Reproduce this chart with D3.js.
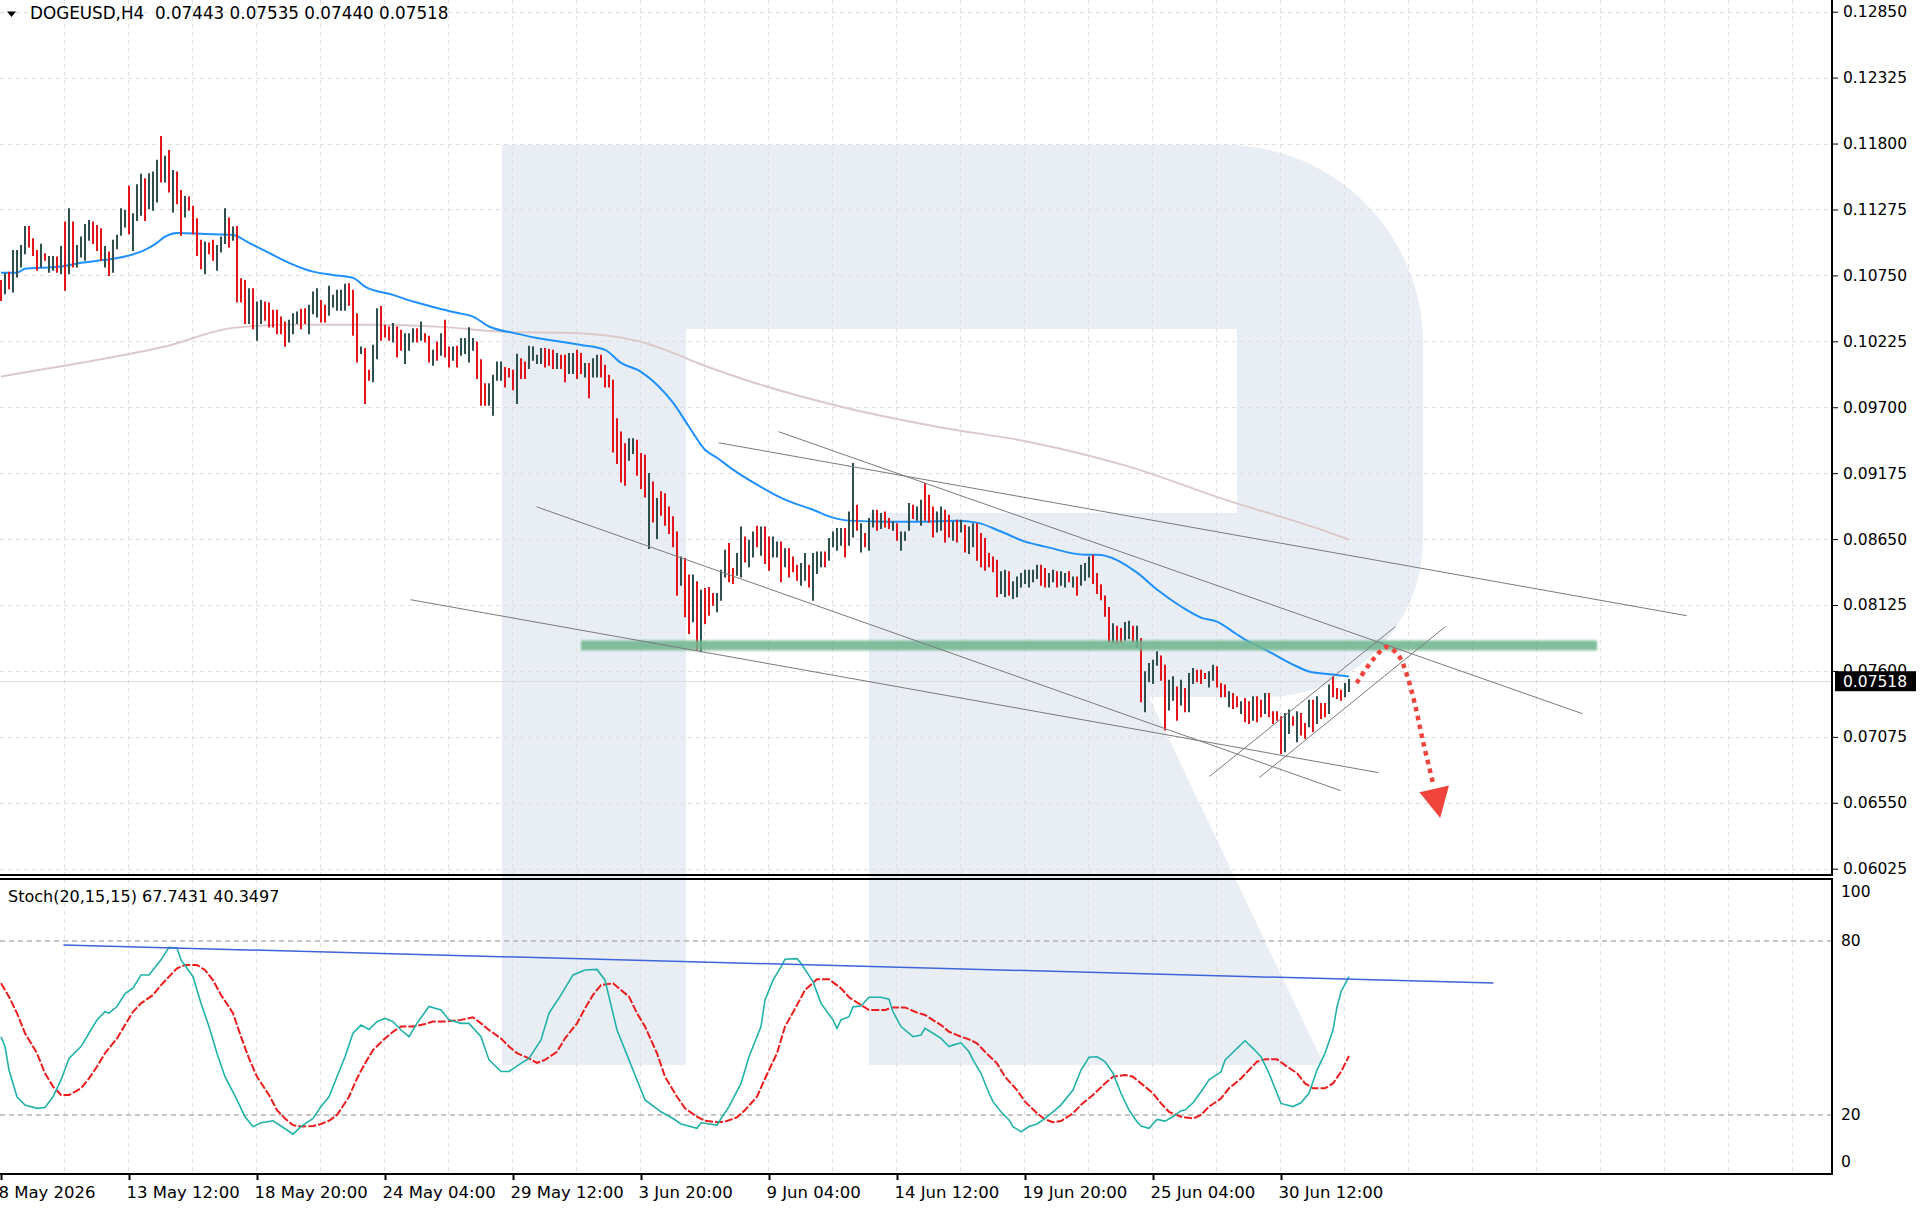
<!DOCTYPE html>
<html>
<head>
<meta charset="utf-8">
<title>DOGEUSD H4</title>
<script src="https://cdn.jsdelivr.net/npm/d3@7/dist/d3.min.js"></script>
<style>
  html, body { margin: 0; padding: 0; background: #fff; overflow: hidden; }
  #chart svg { display: block; font-family: "DejaVu Sans", sans-serif; }
</style>
</head>
<body>
<div id="chart"></div>
<script>
// Layout
const width = 1924;
const height = 1211;
const paneRight = 1832;
const mainBottom = 875;
const stochTop = 879;
const stochBottom = 1174;

// H4 bars, bar 0 = 8 May 2026 (10 bars per row)
const highs = [
  0.10714,0.10767,0.10780,0.10953,0.10953,0.10993,0.11144,0.11144,0.11046,0.10953,
  0.11001,0.10927,0.10905,0.10905,0.10900,0.10985,0.11179,0.11285,0.11179,0.10993,
  0.11059,0.11160,0.11192,0.11179,0.11152,0.11126,0.10985,0.10940,0.11033,0.11073,
  0.11285,0.11272,0.11463,0.11245,0.11476,0.11559,0.11524,0.11564,0.11577,0.11670,
  0.11861,0.11702,0.11749,0.11590,0.11577,0.11431,0.11383,0.11378,0.11304,0.11206,
  0.11033,0.11020,0.11012,0.11033,0.10993,0.11059,0.11285,0.11211,0.11139,0.11144,
  0.10727,0.10714,0.10648,0.10648,0.10542,0.10555,0.10542,0.10534,0.10476,0.10476,
  0.10423,0.10383,0.10396,0.10449,0.10463,0.10484,0.10489,0.10516,0.10622,0.10648,
  0.10555,0.10516,0.10667,0.10595,0.10635,0.10635,0.10683,0.10688,0.10635,0.10449,
  0.10184,0.10171,0.09998,0.10197,0.10489,0.10507,0.10357,0.10343,0.10370,0.10343,
  0.10317,0.10290,0.10290,0.10330,0.10330,0.10383,0.10290,0.10269,0.10158,0.10224,
  0.10290,0.10396,0.10184,0.10184,0.10190,0.10251,0.10251,0.10338,0.10251,0.10224,
  0.10083,0.09892,0.09892,0.09959,0.10065,0.10065,0.10020,0.10012,0.09998,0.10126,
  0.10091,0.10065,0.10190,0.10184,0.10118,0.10171,0.10171,0.10163,0.10158,0.10131,
  0.10118,0.10118,0.10131,0.10131,0.10158,0.10131,0.10052,0.10052,0.10091,0.10118,
  0.10118,0.10038,0.09959,0.09918,0.09613,0.09507,0.09414,0.09454,0.09454,0.09441,
  0.09335,0.09321,0.09176,0.09109,0.08977,0.09030,0.09016,0.08910,0.08831,0.08711,
  0.08512,0.08499,0.08367,0.08367,0.08314,0.08247,0.08260,0.08268,0.08220,0.08220,
  0.08406,0.08565,0.08618,0.08420,0.08539,0.08751,0.08671,0.08645,0.08711,0.08756,
  0.08751,0.08751,0.08671,0.08671,0.08631,0.08631,0.08578,0.08578,0.08512,0.08446,
  0.08459,0.08539,0.08446,0.08539,0.08552,0.08552,0.08552,0.08658,0.08711,0.08738,
  0.08738,0.08738,0.08870,0.09255,0.08923,0.08777,0.08698,0.08817,0.08883,0.08883,
  0.08857,0.08870,0.08817,0.08791,0.08777,0.08711,0.08711,0.08937,0.08923,0.08910,
  0.08963,0.09096,0.09003,0.08910,0.08870,0.08910,0.08883,0.08844,0.08791,0.08804,
  0.08804,0.08764,0.08751,0.08777,0.08777,0.08698,0.08658,0.08539,0.08512,0.08486,
  0.08393,0.08406,0.08393,0.08314,0.08353,0.08380,0.08406,0.08406,0.08406,0.08446,
  0.08446,0.08420,0.08380,0.08406,0.08393,0.08393,0.08380,0.08393,0.08353,0.08353,
  0.08446,0.08459,0.08512,0.08525,0.08380,0.08290,0.08200,0.08110,0.07980,0.07960,
  0.07942,0.07990,0.08000,0.07960,0.07960,0.07862,0.07597,0.07663,0.07690,0.07756,
  0.07722,0.07650,0.07530,0.07557,0.07477,0.07530,0.07464,0.07583,0.07623,0.07610,
  0.07610,0.07583,0.07597,0.07650,0.07637,0.07504,0.07491,0.07438,0.07424,0.07398,
  0.07358,0.07385,0.07358,0.07398,0.07398,0.07371,0.07424,0.07424,0.07279,0.07279,
  0.07239,0.07265,0.07292,0.07239,0.07279,0.07265,0.07186,0.07371,0.07371,0.07398,
  0.07345,0.07345,0.07491,0.07557,0.07464,0.07451,0.07504,0.07535
];
const lows = [
  0.10555,0.10608,0.10648,0.10621,0.10741,0.10820,0.10927,0.10980,0.10913,0.10794,
  0.10820,0.10874,0.10780,0.10794,0.10780,0.10767,0.10635,0.10767,0.10820,0.10820,
  0.10900,0.10874,0.11033,0.11007,0.10953,0.10874,0.10820,0.10754,0.10780,0.10967,
  0.11073,0.11139,0.11086,0.10953,0.11192,0.11232,0.11192,0.11285,0.11272,0.11338,
  0.11497,0.11497,0.11418,0.11258,0.11325,0.11073,0.11219,0.11272,0.11086,0.10913,
  0.10807,0.10767,0.10927,0.10874,0.10794,0.10940,0.11007,0.10980,0.11033,0.10542,
  0.10542,0.10370,0.10370,0.10330,0.10237,0.10370,0.10396,0.10343,0.10343,0.10290,
  0.10290,0.10190,0.10224,0.10290,0.10370,0.10330,0.10370,0.10290,0.10449,0.10423,
  0.10383,0.10383,0.10436,0.10502,0.10476,0.10476,0.10476,0.10516,0.10277,0.10065,
  0.10131,0.09733,0.09919,0.09906,0.10091,0.10237,0.10264,0.10237,0.10224,0.10105,
  0.10158,0.10052,0.10158,0.10224,0.10224,0.10237,0.10224,0.10065,0.10038,0.10078,
  0.10118,0.10105,0.10025,0.10078,0.10025,0.10118,0.10131,0.10065,0.10158,0.09932,
  0.09720,0.09720,0.09720,0.09640,0.09919,0.09919,0.09866,0.09945,0.09844,0.09733,
  0.09932,0.09932,0.10012,0.10078,0.10052,0.10052,0.10025,0.10038,0.10012,0.10012,
  0.10012,0.09906,0.09972,0.09972,0.09932,0.09972,0.09945,0.09780,0.09945,0.09945,
  0.09945,0.09866,0.09866,0.09348,0.09255,0.09109,0.09083,0.09282,0.09335,0.09162,
  0.09056,0.08990,0.08579,0.08791,0.08658,0.08844,0.08764,0.08698,0.08592,0.08207,
  0.08287,0.08035,0.07902,0.07995,0.07769,0.07756,0.07982,0.08048,0.08128,0.08075,
  0.08167,0.08353,0.08314,0.08300,0.08366,0.08353,0.08472,0.08433,0.08512,0.08592,
  0.08525,0.08459,0.08406,0.08512,0.08512,0.08314,0.08433,0.08353,0.08393,0.08327,
  0.08287,0.08327,0.08273,0.08167,0.08380,0.08433,0.08433,0.08486,0.08592,0.08565,
  0.08605,0.08512,0.08605,0.08671,0.08724,0.08552,0.08592,0.08565,0.08751,0.08724,
  0.08738,0.08751,0.08738,0.08724,0.08645,0.08565,0.08645,0.08724,0.08817,0.08804,
  0.08764,0.08804,0.08791,0.08671,0.08711,0.08724,0.08631,0.08671,0.08645,0.08631,
  0.08711,0.08552,0.08539,0.08592,0.08486,0.08433,0.08406,0.08433,0.08393,0.08194,
  0.08220,0.08194,0.08207,0.08181,0.08194,0.08273,0.08300,0.08273,0.08314,0.08340,
  0.08287,0.08273,0.08273,0.08314,0.08273,0.08287,0.08273,0.08314,0.08273,0.08207,
  0.08287,0.08327,0.08353,0.08300,0.08220,0.08170,0.08040,0.07836,0.07830,0.07823,
  0.07830,0.07849,0.07862,0.07836,0.07790,0.07358,0.07278,0.07517,0.07504,0.07650,
  0.07530,0.07133,0.07292,0.07371,0.07212,0.07332,0.07278,0.07278,0.07504,0.07517,
  0.07504,0.07544,0.07477,0.07530,0.07477,0.07398,0.07398,0.07318,0.07305,0.07318,
  0.07265,0.07199,0.07186,0.07212,0.07199,0.07239,0.07265,0.07239,0.07186,0.07212,
  0.06947,0.06960,0.07106,0.07172,0.07040,0.07093,0.07066,0.07159,0.07119,0.07186,
  0.07225,0.07239,0.07265,0.07398,0.07385,0.07371,0.07398,0.07440
];
// u = bullish bar, d = bearish bar
const dirs =
  "duduuuuddd" + "uduudududu" + "uuuddduduu" + "uuduuuduuu" + "dududduddd" +
  "dudduuudud" + "dduduudddd" + "dduuudduuu" + "dduuuuuddd" + "udduudddud" +
  "duuududdud" + "udduduuuud" + "dduuuudddu" + "dduuuudddu" + "dduudduduu" +
  "ddddddduud" + "ddududdddd" + "uddududddu" + "uudduuduud" + "udduududdd" +
  "uuduuuduuu" + "uduududuud" + "udduduuudu" + "uddduuddud" + "uduudddddd" +
  "uuduuuuuuu" + "dduuduudud" + "uuudddddud" + "duududuuuu" + "dduududuud" +
  "dduudddudd" + "uddudduddd" + "duududdudu" + "dduddduu";

const lastOHLC = [0.07443, 0.07535, 0.07440, 0.07518];

// moving averages read at sample bars: [bar, price]
const maFast = [
  [0,0.10772],[4,0.10772],[6,0.10802],[10,0.10810],[15,0.10820],[20,0.10850],[26,0.10874],
  [31,0.10900],[36,0.10953],[39,0.11009],[41,0.11059],[44,0.11088],[51,0.11080],[58,0.11072],
  [62,0.11009],[67,0.10929],[72,0.10850],[78,0.10780],[83,0.10754],[88,0.10730],[91,0.10661],
  [98,0.10595],[103,0.10542],[109,0.10491],[114,0.10452],[118,0.10422],[122,0.10343],
  [128,0.10292],[134,0.10252],[145,0.10196],[151,0.10157],[155,0.10054],[160,0.09982],
  [164,0.09879],[168,0.09736],[172,0.09545],[176,0.09362],[179,0.09298],[183,0.09203],
  [189,0.09083],[196,0.08964],[203,0.08884],[208,0.08821],[212,0.08797],[222,0.08789],
  [229,0.08789],[239,0.08797],[244,0.08781],[250,0.08710],[256,0.08630],[261,0.08590],
  [271,0.08526],[274,0.08526],[284,0.08383],[289,0.08248],[295,0.08113],[300,0.08025],
  [304,0.07993],[309,0.07890],[311,0.07850],[316,0.07770],[324,0.07635],[327,0.07595],
  [333,0.07571],[337,0.07555]
];
const maSlow = [
  [0,0.09945],[20,0.10054],[41,0.10183],[58,0.10332],[72,0.10356],[93,0.10356],[110,0.10340],
  [126,0.10300],[143,0.10292],[160,0.10221],[168,0.10133],[174,0.10054],[186,0.09919],
  [210,0.09704],[234,0.09545],[258,0.09418],[282,0.09227],[306,0.08964],[330,0.08725],
  [337,0.08645]
];

// Stochastic(20,15,15): [bar, value]
const stochK = [
  [0,47],[1,43.6],[2,35.5],[4,26.3],[6,23.4],[9,22.3],[11,22.6],[13,26.3],[15,32.1],[17,39.5],
  [20,43.6],[22,48.2],[24,52.8],[26,55.6],[27,55.1],[29,57.4],[31,61.9],[33,63.7],[35,68.3],
  [37,68.3],[40,73.5],[42,77.8],[44,77.5],[45,73.5],[48,67.7],[50,58.5],[52,50.5],[54,41.3],
  [56,33.2],[59,25.2],[61,19.4],[63,16],[65,17.3],[68,18],[70,16.2],[73,13.4],[75,16],
  [78,18.8],[80,22.9],[82,26.3],[84,33.2],[86,40.1],[88,48.2],[90,51],[92,49.5],[94,52.2],
  [96,53.3],[98,52.2],[100,49.3],[102,47],[104,51.6],[107,57.4],[110,56.2],[112,52.8],
  [115,51.6],[117,51.6],[120,47],[122,39],[125,35],[127,35],[130,37.8],[132,39.5],[135,45.9],
  [137,55.1],[140,61.4],[143,68.3],[146,70],[149,70.2],[151,66.5],[154,49.3],[157,39],
  [160,28.6],[161,25.2],[165,21.1],[168,18.8],[170,16.9],[174,15.4],[175,17.3],[179,16.5],
  [180,18.8],[182,22.9],[185,30.9],[187,40.1],[190,50.5],[191,59.7],[193,66.5],[195,71.1],
  [196,73.7],[199,73.9],[200,72.3],[203,66],[205,58.5],[208,52.8],[209,49.9],[210,52.8],
  [212,53.9],[213,57.3],[215,57.6],[217,60.6],[220,60.6],[222,59.9],[223,55.6],[225,50.5],
  [228,47],[230,47.6],[231,49.9],[233,48.2],[235,46.4],[237,43.6],[238,44.1],[240,44.9],
  [242,41.8],[243,39],[245,34.4],[247,27.5],[248,24.6],[250,21.1],[252,18.3],[253,16],
  [255,14.2],[257,16],[259,16.9],[261,18.8],[263,21.1],[265,23.5],[268,28.6],[270,35.5],
  [272,39.9],[274,40.1],[276,38.4],[278,34.4],[280,27.5],[282,21.7],[284,17.7],[285,16.2],
  [287,15.4],[289,18.5],[291,17.9],[293,19.4],[295,21.5],[296,21.7],[298,24.2],[300,28],
  [302,32.1],[305,34.9],[306,38.9],[309,43],[311,45.6],[313,43],[315,40.1],[317,34.4],
  [319,27.5],[320,24],[323,22.9],[325,24.2],[327,27.5],[329,35.5],[331,41.3],[333,49.3],
  [334,57.3],[335,62.5],[337,67.7431]
];
const stochD = [
  [0,65.4],[2,60.8],[4,55.1],[6,48.2],[9,41.3],[11,34.4],[13,29.8],[15,26.9],[17,26.9],
  [20,29.2],[22,32.6],[24,36.7],[26,41.3],[29,46.4],[31,51],[33,55.6],[35,58.5],[38,61.4],
  [40,64.8],[42,67.7],[44,70.6],[46,71.7],[49,71.7],[51,70],[53,66.5],[55,61.4],[58,55.1],
  [60,47],[62,39.5],[64,33.2],[67,26.9],[69,21.7],[71,18.8],[73,16.5],[75,16],[78,16.2],
  [80,16.9],[82,18],[84,20],[87,26.3],[89,32.6],[91,37.8],[93,42.4],[96,46.4],[98,48.7],
  [100,50.5],[103,50.5],[106,51.4],[108,52.2],[111,52.2],[115,52.8],[118,53.7],[120,51.6],
  [122,49.3],[125,46.4],[127,43.6],[129,41.3],[132,39.5],[134,38],[136,39],[139,41.8],
  [141,46.4],[144,51.6],[146,56.8],[148,61.4],[150,64.8],[153,65.4],[155,63.1],[157,60.8],
  [159,55.1],[161,50.5],[164,41.3],[166,33.2],[169,26.3],[171,22.3],[174,19.4],[176,18],
  [179,17.5],[181,17.7],[184,19.2],[186,21.7],[189,26.3],[191,32.6],[194,41.3],[196,50.5],
  [199,57.9],[201,63.1],[204,66.8],[207,66.8],[210,63.7],[212,60.6],[215,57.9],[217,56.2],
  [221,56.2],[223,57.1],[226,57.1],[229,55.3],[231,54.5],[235,51],[237,48.7],[240,47],
  [242,46.1],[244,44.7],[246,41.8],[249,37.8],[251,33.2],[254,28.6],[256,24.6],[259,20.6],
  [261,18.5],[263,17.5],[265,17.9],[268,20.6],[270,23.5],[273,26.9],[276,30.9],[278,33.2],
  [281,33.8],[283,33.2],[285,30.9],[288,27.5],[290,24],[292,21.1],[295,19.4],[298,18.8],
  [300,20],[302,22.9],[305,25.7],[307,29.2],[310,32.6],[312,35.5],[314,38.4],[316,39.2],
  [319,39.2],[321,37.2],[324,34.4],[326,30.9],[328,29.2],[331,29.2],[333,30.9],[335,34.9],
  [337,40.3497]
];

// axes
const priceTicks = [0.12850,0.12325,0.11800,0.11275,0.10750,0.10225,0.09700,0.09175,
                    0.08650,0.08125,0.07600,0.07075,0.06550,0.06025];
const stochTicks = [100, 80, 20, 0];
const stochLevels = [80, 20];
const timeTickBars = [0, 32, 64, 96, 128, 160, 192, 224, 256, 288, 320];
const timeLabels = ["8 May 2026", "13 May 12:00", "18 May 20:00", "24 May 04:00", "29 May 12:00",
                    "3 Jun 20:00", "9 Jun 04:00", "14 Jun 12:00", "19 Jun 20:00", "25 Jun 04:00",
                    "30 Jun 12:00"];

// drawn analysis: [bar, price]
const trendLines = [
  [[179.4, 0.09417], [421.4, 0.08040]],
  [[194.4, 0.09505], [395.4, 0.07259]],
  [[133.9, 0.08907], [334.9, 0.06647]],
  [[102.4, 0.08167], [344.4, 0.06790]],
  [[302.1, 0.06759], [348.6, 0.07953]],
  [[314.6, 0.06751], [361.1, 0.07953]]
];
const supportLevel = 0.07803;
const supportSpan = [145, 399];
const forecastPath = [[338.9,0.07504],[343.0,0.07690],[346.5,0.07791],[349.5,0.07716],
                      [351.3,0.07584],[353.4,0.07345],[355.5,0.07039],[358.1,0.06695]];
const forecastHead = [[354.6,0.06633],[362.0,0.06687],[359.8,0.06429]];
const stochTrend = [[15.6, 78.6], [373.1, 65.5]];

// ---------------------------------------------------------------------------
const svg = d3.select("#chart").append("svg")
    .attr("width", width)
    .attr("height", height);

// 4 px per bar
const x = d3.scaleLinear().domain([0, 458]).range([1, 1833]);
const y = d3.scaleLinear().domain([0.06025, 0.12850]).range([868.7, 11.7]);
const yStoch = d3.scaleLinear().domain([0, 100]).range([1173, 883]);

const defs = svg.append("defs");
defs.append("clipPath").attr("id", "clipMain").append("rect")
    .attr("x", 0).attr("y", 0).attr("width", paneRight).attr("height", mainBottom);
defs.append("clipPath").attr("id", "clipStoch").append("rect")
    .attr("x", 0).attr("y", stochTop).attr("width", paneRight).attr("height", stochBottom - stochTop);
defs.append("filter").attr("id", "soft")
    .attr("x", "-5%").attr("y", "-100%").attr("width", "110%").attr("height", "300%")
    .append("feGaussianBlur").attr("stdDeviation", 1);

// broker watermark
svg.append("path")
    .attr("d", "M502,145H1225A198,198 0 0 1 1423,343V539A158,158 0 0 1 1265,697H1149L1324,1065H869V513H1237V329H686V1065H502Z")
    .attr("fill", "#e9eef5");

// grid
const grid = svg.append("g")
    .attr("stroke", "#dedede")
    .attr("stroke-width", 1)
    .attr("stroke-dasharray", "4,4");
const gridBars = d3.range(16, 458, 16);
grid.selectAll(".gv1").data(gridBars).join("line")
    .attr("x1", d => Math.round(x(d)) - 0.5).attr("x2", d => Math.round(x(d)) - 0.5)
    .attr("y1", 0).attr("y2", mainBottom);
grid.selectAll(".gv2").data(gridBars).join("line")
    .attr("x1", d => Math.round(x(d)) - 0.5).attr("x2", d => Math.round(x(d)) - 0.5)
    .attr("y1", stochTop).attr("y2", stochBottom);
grid.selectAll(".gh").data(priceTicks).join("line")
    .attr("x1", 0).attr("x2", paneRight)
    .attr("y1", d => Math.round(y(d)) + 0.5).attr("y2", d => Math.round(y(d)) + 0.5);

// stochastic levels
svg.append("g")
    .selectAll("line").data(stochLevels).join("line")
    .attr("x1", 0).attr("x2", paneRight)
    .attr("y1", d => yStoch(d)).attr("y2", d => yStoch(d))
    .attr("stroke", "#b4b4b4").attr("stroke-width", 1.5).attr("stroke-dasharray", "5,4");

const main = svg.append("g").attr("clip-path", "url(#clipMain)");

// bid line
main.append("line")
    .attr("x1", 0).attr("x2", paneRight)
    .attr("y1", Math.round(y(lastOHLC[3])) + 0.5).attr("y2", Math.round(y(lastOHLC[3])) + 0.5)
    .attr("stroke", "#dcdcdc");

// moving averages
const maLine = d3.line().x(d => x(d[0])).y(d => y(d[1])).curve(d3.curveMonotoneX);
main.append("path").attr("d", maLine(maSlow))
    .attr("fill", "none").attr("stroke", "#dccaca").attr("stroke-width", 2);
main.append("path").attr("d", maLine(maFast))
    .attr("fill", "none").attr("stroke", "#1e90ff").attr("stroke-width", 2);

// bars
main.append("g")
    .selectAll("line").data(highs).join("line")
    .attr("x1", (d, i) => x(i)).attr("x2", (d, i) => x(i))
    .attr("y1", d => y(d)).attr("y2", (d, i) => y(lows[i]) + 1)
    .attr("stroke", (d, i) => dirs[i] === "u" ? "#2f4f4f" : "#e3151c")
    .attr("stroke-width", 2);

// support zone
main.append("rect")
    .attr("x", x(supportSpan[0])).attr("width", x(supportSpan[1]) - x(supportSpan[0]))
    .attr("y", y(supportLevel) - 5).attr("height", 10)
    .attr("fill", "#6fb68f").attr("opacity", 0.88)
    .attr("filter", "url(#soft)");

// trend lines
main.append("g")
    .selectAll("line").data(trendLines).join("line")
    .attr("x1", d => x(d[0][0])).attr("y1", d => y(d[0][1]))
    .attr("x2", d => x(d[1][0])).attr("y2", d => y(d[1][1]))
    .attr("stroke", "#7a7a7a").attr("stroke-width", 1);

// forecast arrow
const fLine = d3.line().x(d => x(d[0])).y(d => y(d[1])).curve(d3.curveCatmullRom);
main.append("path").attr("d", fLine(forecastPath))
    .attr("fill", "none").attr("stroke", "#f0443c").attr("stroke-width", 4.5)
    .attr("stroke-dasharray", "4.5,4.5");
main.append("polygon")
    .attr("points", forecastHead.map(d => [x(d[0]), y(d[1])].join(",")).join(" "))
    .attr("fill", "#f0443c");

// stochastic pane
const stoch = svg.append("g").attr("clip-path", "url(#clipStoch)");
const sLine = d3.line().x(d => x(d[0])).y(d => yStoch(d[1]));
stoch.append("path").attr("d", sLine(stochD))
    .attr("fill", "none").attr("stroke", "#ec1c1c").attr("stroke-width", 2)
    .attr("stroke-dasharray", "8,2");
stoch.append("path").attr("d", sLine(stochK))
    .attr("fill", "none").attr("stroke", "#20b2aa").attr("stroke-width", 1.6);
stoch.append("line")
    .attr("x1", x(stochTrend[0][0])).attr("y1", yStoch(stochTrend[0][1]))
    .attr("x2", x(stochTrend[1][0])).attr("y2", yStoch(stochTrend[1][1]))
    .attr("stroke", "#3f63d8").attr("stroke-width", 1.5);

// frame lines
const frame = svg.append("g").attr("stroke", "#000").attr("stroke-width", 2);
frame.append("line").attr("x1", 0).attr("x2", paneRight + 1).attr("y1", mainBottom).attr("y2", mainBottom);
frame.append("line").attr("x1", 0).attr("x2", paneRight + 1).attr("y1", stochTop).attr("y2", stochTop);
frame.append("line").attr("x1", 0).attr("x2", paneRight + 1).attr("y1", stochBottom).attr("y2", stochBottom);
frame.append("line").attr("x1", paneRight).attr("x2", paneRight).attr("y1", 0).attr("y2", mainBottom);
frame.append("line").attr("x1", paneRight).attr("x2", paneRight).attr("y1", stochTop).attr("y2", stochBottom + 1);

// price scale
const priceAxis = svg.append("g")
    .attr("transform", `translate(${paneRight + 1},0)`)
    .call(d3.axisRight(y).tickValues(priceTicks).tickSize(5).tickPadding(5)
        .tickFormat(d3.format(".5f")));
priceAxis.attr("font-family", "DejaVu Sans").attr("font-size", 15.5);
priceAxis.select(".domain").remove();
priceAxis.selectAll("line").attr("stroke", "#000");
priceAxis.selectAll("text").attr("fill", "#000");

// current price tag (drawn over the 0.07600 label, as in the terminal)
const tagY = y(lastOHLC[3]);
svg.append("rect")
    .attr("x", paneRight + 3).attr("y", tagY - 10).attr("width", 81).attr("height", 20)
    .attr("fill", "#000");
svg.append("text")
    .attr("x", paneRight + 11).attr("y", tagY).attr("dy", "0.36em")
    .attr("font-size", 15.5).attr("fill", "#fff")
    .text(d3.format(".5f")(lastOHLC[3]));

// stochastic scale
const stochAxis = svg.append("g")
    .attr("transform", `translate(${paneRight + 1},0)`)
    .call(d3.axisRight(yStoch).tickValues(stochTicks).tickSize(0).tickPadding(8));
stochAxis.attr("font-family", "DejaVu Sans").attr("font-size", 15.5);
stochAxis.select(".domain").remove();
stochAxis.selectAll(".tick")
    .attr("transform", d => `translate(0,${Math.min(Math.max(yStoch(d), 892), 1162)})`);
stochAxis.selectAll("text").attr("fill", "#000");

// time scale
const timeAxis = svg.append("g")
    .attr("transform", `translate(0,${stochBottom})`)
    .call(d3.axisBottom(x).tickValues(timeTickBars).tickSize(6)
        .tickFormat((d, i) => timeLabels[i]));
timeAxis.attr("font-family", "DejaVu Sans").attr("font-size", 16.5);
timeAxis.select(".domain").remove();
timeAxis.selectAll("line").attr("stroke", "#000").attr("stroke-width", 2);
timeAxis.selectAll("text")
    .attr("fill", "#000").attr("text-anchor", "start")
    .attr("x", -3).attr("y", 24).attr("dy", 0);

// titles
svg.append("polygon").attr("points", "7,11.5 16,11.5 11.5,17").attr("fill", "#000");
svg.append("text")
    .attr("x", 30).attr("y", 19)
    .attr("font-size", 16.8).attr("fill", "#000")
    .attr("xml:space", "preserve")
    .text("DOGEUSD,H4  " + lastOHLC.map(d3.format(".5f")).join(" "));
svg.append("text")
    .attr("x", 8).attr("y", 902)
    .attr("font-size", 16).attr("fill", "#000")
    .text(`Stoch(20,15,15) ${stochK[stochK.length - 1][1]} ${stochD[stochD.length - 1][1]}`);
</script>
</body>
</html>
